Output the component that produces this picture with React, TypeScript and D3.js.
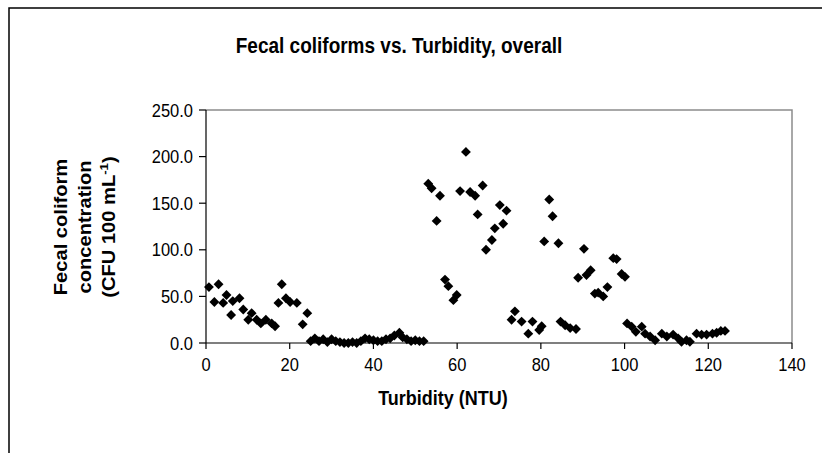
import React from "react";
import * as d3 from "d3";

const turbidity: number[] = [
  0.7, 3, 2, 4.1, 4.9, 6.4, 6, 8, 8.9, 10.1, 10.9, 12.1, 13.1, 14.3, 15.7, 16.5, 18.1, 17.3, 19.1, 20.1, 21.7, 23.1, 24.2,
  25, 26, 27, 28, 29, 30, 31, 32, 33, 34, 35, 36, 37, 38, 39, 40, 41, 42, 43, 44, 45, 46.2, 47, 48, 49, 50, 51, 52,
  53.1, 53.9, 55.9, 55.1, 57.1, 57.9, 59.9, 59.1, 60.7, 62.1, 63.1, 64.3, 64.9, 66.1, 66.9, 68.3, 69, 70.2, 71, 71.8, 73.8, 73,
  75.4, 77, 78, 79.6, 80.2, 80.8, 82, 82.8, 84.2, 84.7, 85.8, 87, 88.4, 88.9, 90.3, 90.9, 91.9, 92.9, 93.7, 94.9, 95.9, 97.3, 98.1, 99.3, 100.1,
  100.6, 101.7, 102.7, 104.1, 104.9, 106.1, 107.3, 108.9, 110.1, 111.6, 112.8, 113.6, 114.8, 115.6, 117.2, 118.4, 119.6, 121, 122, 123, 124,
];
const fecal: number[] = [
  60, 63, 44, 43, 51.5, 45, 30, 48, 36, 25, 32, 25, 21, 25, 21, 18, 63, 43, 48, 44, 43, 20, 32,
  2, 5, 2, 4, 1, 4, 2, 1, 0, 0, 1, 0, 2, 5, 4, 3, 2, 2, 4, 5, 8, 11, 6, 4, 2, 3, 2, 2,
  171, 166, 158, 131, 68, 61, 51.5, 46, 163, 205, 162, 158, 138, 169, 100, 110.5, 123, 148, 128, 142, 34, 25,
  23, 10, 23, 14, 18, 109, 154, 136, 107, 23, 19, 16, 15, 70, 101, 73, 78, 53, 54, 50, 60, 91, 90, 74, 71,
  21, 17.5, 12, 17.5, 10, 7, 3, 10, 7, 9, 5, 1.4, 3, 1.4, 10, 9, 9, 10, 11, 13, 13,
];
const xTicks: number[] = [0, 20, 40, 60, 80, 100, 120, 140];
const yTicks: number[] = [0, 50, 100, 150, 200, 250];

const chartTitle = "Fecal coliforms vs. Turbidity, overall";
const xTitle = "Turbidity (NTU)";
const yTitleLines: string[] = ["Fecal coliform", "concentration", "(CFU 100 mL"];

function SText(props: { x: number; y: number; sy: number; size: number; anchor: string; bold?: boolean; children: any }) {
  const { x, y, sy, size, anchor, bold, children } = props;
  return (
    <g transform={`translate(${x},${y}) scale(1,${sy})`}>
      <text x={0} y={0} textAnchor={anchor} fontSize={size} fontWeight={bold ? "bold" : "normal"}>{children}</text>
    </g>
  );
}

export default function App() {
  const W = 822, H = 453;
  const left = 206, right = 792, top = 110, bottom = 343;
  const x = d3.scaleLinear().domain([0, 140]).range([left, right]);
  const y = d3.scaleLinear().domain([0, 250]).range([bottom, top]);
  const diamond = d3.symbol().type(d3.symbolDiamond2).size(62)();
  const font = "Arial, 'Liberation Sans', sans-serif";
  const points = turbidity.map((t, i) => ({ t, f: fecal[i] }));
  const yTitleBase = [67, 91, 115];
  return (
    <div style={{ position: "absolute", left: 0, top: 0 }}>
      <svg width={W} height={H} style={{ display: "block", background: "#fff" }} fontFamily={font}>
        <rect x={0} y={0} width={W} height={H} fill="#fff" />
        <path d={`M9,${H + 5} L9,8 L${W + 5},8`} fill="none" stroke="#000" strokeWidth={1.5} />
        <SText x={399} y={53} sy={1.15} size={19} anchor="middle" bold>{chartTitle}</SText>
        <path d={`M${left},${top} L${right},${top} L${right},${bottom}`} fill="none" stroke="#8c8c8c" strokeWidth={1.5} />
        <line x1={left} x2={right} y1={bottom} y2={bottom} stroke="#000" strokeWidth={1.2} />
        <line x1={left} x2={left} y1={top} y2={bottom} stroke="#000" strokeWidth={1.2} />
        {xTicks.map((v) => (
          <g key={"x" + v}>
            <line x1={x(v)} x2={x(v)} y1={bottom} y2={bottom + 6} stroke="#000" strokeWidth={1.2} />
            <SText x={x(v)} y={bottom + 28} sy={1.15} size={16.5} anchor="middle">{v}</SText>
          </g>
        ))}
        {yTicks.map((v) => (
          <g key={"y" + v}>
            <line x1={left - 7} x2={left} y1={y(v)} y2={y(v)} stroke="#000" strokeWidth={1.2} />
            <SText x={193} y={y(v) + 6.5} sy={1.15} size={16.5} anchor="end">{v.toFixed(1)}</SText>
          </g>
        ))}
        {points.map((p, i) => (
          <path key={i} d={diamond} transform={`translate(${x(p.t)},${y(p.f)})`} fill="#000" />
        ))}
        <SText x={443} y={405} sy={1.12} size={18} anchor="middle" bold>{xTitle}</SText>
        {yTitleLines.map((s, i) => (
          <g key={i} transform={`translate(${yTitleBase[i]},227) rotate(-90) scale(1.15,1)`}>
            <text x={0} y={0} textAnchor="middle" fontSize={17.5} fontWeight="bold">
              {s}
              {i === 2 ? (
                <>
                  <tspan fontSize={11.5} dy={-7}>-1</tspan>
                  <tspan dy={7}>)</tspan>
                </>
              ) : null}
            </text>
          </g>
        ))}
      </svg>
    </div>
  );
}
